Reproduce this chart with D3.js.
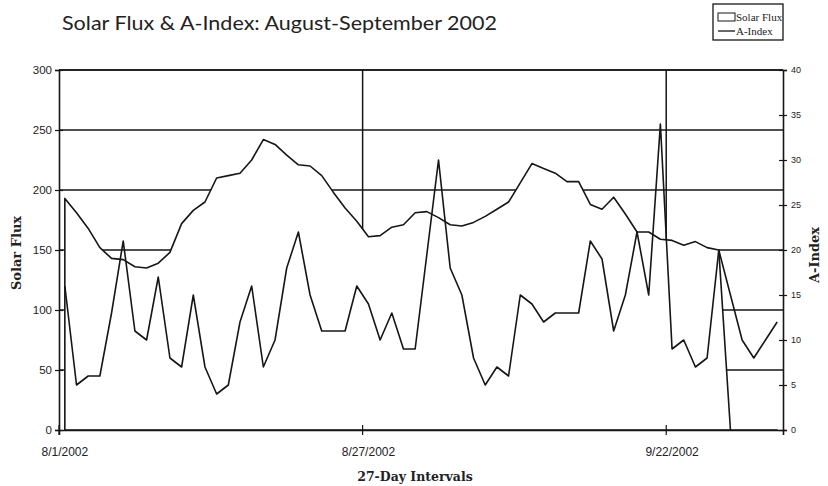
<!DOCTYPE html>
<html>
<head>
<meta charset="utf-8">
<script src="https://cdn.jsdelivr.net/npm/d3@7"></script>
<style>
  body { margin: 0; background: #fff; }
  svg { display: block; }
</style>
</head>
<body>
<div id="chart"></div>
<script>
// daily values, 8/1/2002 .. 10/1/2002
var solarFlux = [193, 181, 168, 152, 143, 142, 136, 135, 139, 148,
                 172, 183, 190, 210, 212, 214, 225, 242, 238, 229,
                 221, 220, 212, 198, 185, 174, 161, 162, 169, 171,
                 181, 182, 177, 171, 170, 173, 178, 184, 190, 206,
                 222, 218, 214, 207, 207, 188, 184, 194, 180, 165,
                 165, 159, 158, 154, 157, 152, 150, 0, 0, 0,
                 0, 0];
var aIndex = [16, 5, 6, 6, 13, 21, 11, 10, 17, 8,
              7, 15, 7, 4, 5, 12, 16, 7, 10, 18,
              22, 15, 11, 11, 11, 16, 14, 10, 13, 9,
              9, 19.5, 30, 18, 15, 8, 5, 7, 6, 15,
              14, 12, 13, 13, 13, 21, 19, 11, 15, 22,
              15, 34, 9, 10, 7, 8, 20, 15, 10, 8,
              10, 12];
var tickDays = [0, 26, 52];
var tickLabels = ["8/1/2002", "8/27/2002", "9/22/2002"];
var fluxTicks = [0, 50, 100, 150, 200, 250, 300];
var aTicks = [0, 5, 10, 15, 20, 25, 30, 35, 40];

var width = 828, height = 486;
var plotL = 59, plotR = 783, plotT = 70, plotB = 430;
var ink = "#161616";

var svg = d3.select("#chart").append("svg")
    .attr("width", width).attr("height", height);

var x = d3.scaleBand().domain(d3.range(solarFlux.length)).range([plotL, plotR]).padding(0);
var bw = x.bandwidth();
var cx = function(i){ return x(i) + bw / 2; };
var yL = d3.scaleLinear().domain([0, 300]).range([plotB, plotT]);
var yR = d3.scaleLinear().domain([0, 40]).range([plotB, plotT]);

// gridlines (hidden under the white flux area)
svg.append("g").selectAll("line").data(fluxTicks.slice(1)).enter().append("line")
    .attr("x1", plotL).attr("x2", plotR)
    .attr("y1", function(d){ return yL(d); }).attr("y2", function(d){ return yL(d); })
    .attr("stroke", ink).attr("stroke-width", 1.5);
svg.append("g").selectAll("line").data(tickDays.slice(1)).enter().append("line")
    .attr("x1", function(d){ return x(d); }).attr("x2", function(d){ return x(d); })
    .attr("y1", plotT).attr("y2", plotB)
    .attr("stroke", ink).attr("stroke-width", 1.5);

// solar flux area
var area = d3.area()
    .x(function(d, i){ return cx(i); })
    .y0(yL(0))
    .y1(function(d){ return yL(d); });
svg.append("path").datum(solarFlux)
    .attr("d", area)
    .attr("fill", "#fff").attr("stroke", ink).attr("stroke-width", 1.6)
    .attr("stroke-linejoin", "round");

// A-index line
var line = d3.line()
    .x(function(d, i){ return cx(i); })
    .y(function(d){ return yR(d); });
svg.append("path").datum(aIndex)
    .attr("d", line)
    .attr("fill", "none").attr("stroke", ink).attr("stroke-width", 1.6)
    .attr("stroke-linejoin", "round");

// axes
var narrow = "'Liberation Sans Narrow', 'Liberation Sans', Arial, sans-serif";
var axL = svg.append("g").attr("transform", "translate(" + plotL + ",0)")
    .call(d3.axisLeft(yL).tickValues(fluxTicks).tickSize(4).tickPadding(4));
axL.selectAll(".tick line").attr("x1", -4).attr("x2", 4);
axL.selectAll("text").style("font-family", narrow)
    .style("font-size", "11.5px").attr("fill", "#222").attr("x", -7);

var axR = svg.append("g").attr("transform", "translate(" + plotR + ",0)")
    .call(d3.axisRight(yR).tickValues(aTicks).tickSize(4).tickPadding(4));
axR.selectAll(".tick line").attr("x1", -4).attr("x2", 4);
axR.selectAll("text").style("font-family", narrow)
    .style("font-size", "9px").attr("fill", "#222").attr("x", 8);

var axB = svg.append("g").attr("transform", "translate(0," + plotB + ")")
    .call(d3.axisBottom(x).tickValues(tickDays)
        .tickFormat(function(d){ return tickLabels[tickDays.indexOf(d)]; })
        .tickSize(5).tickPadding(12));
axB.selectAll(".tick line").attr("x1", -bw / 2).attr("x2", -bw / 2).attr("y1", -5).attr("y2", 5);
axB.selectAll("text").style("font-family", narrow)
    .style("font-size", "12px").attr("fill", "#222");

svg.selectAll(".domain").attr("stroke", ink).attr("stroke-width", 1.6);
svg.selectAll(".tick line").attr("stroke", ink).attr("stroke-width", 1.2);

// top border
svg.append("line").attr("x1", plotL).attr("x2", plotR).attr("y1", plotT).attr("y2", plotT)
    .attr("stroke", ink).attr("stroke-width", 1.6);

// titles
svg.append("text").attr("x", 62).attr("y", 30)
    .attr("textLength", 435).attr("lengthAdjust", "spacingAndGlyphs")
    .style("font-family", "Lato, 'Open Sans', sans-serif").style("font-size", "20px")
    .attr("fill", "#222")
    .text("Solar Flux & A-Index: August-September 2002");

var serif = "'DejaVu Serif', 'Liberation Serif', serif";
svg.append("text").attr("x", 415).attr("y", 481).attr("text-anchor", "middle")
    .style("font-family", serif).style("font-size", "12.5px").style("font-weight", "bold")
    .attr("fill", "#222").text("27-Day Intervals");
svg.append("text").attr("transform", "translate(21,253) rotate(-90)").attr("text-anchor", "middle")
    .style("font-family", serif).style("font-size", "13px").style("font-weight", "bold")
    .attr("fill", "#222").text("Solar Flux");
svg.append("text").attr("transform", "translate(819,255) rotate(-90)").attr("text-anchor", "middle")
    .style("font-family", serif).style("font-size", "13px").style("font-weight", "bold")
    .attr("fill", "#222").text("A-Index");

// legend
var lg = svg.append("g");
lg.append("rect").attr("x", 713).attr("y", 4).attr("width", 70).attr("height", 36)
    .attr("fill", "#fff").attr("stroke", ink).attr("stroke-width", 1.3);
lg.append("rect").attr("x", 718).attr("y", 13).attr("width", 17).attr("height", 8)
    .attr("fill", "#fff").attr("stroke", ink).attr("stroke-width", 1);
lg.append("line").attr("x1", 718).attr("x2", 735).attr("y1", 31).attr("y2", 31)
    .attr("stroke", ink).attr("stroke-width", 1.3);
lg.append("text").attr("x", 736).attr("y", 21)
    .style("font-family", "'Liberation Serif', serif").style("font-size", "11px")
    .attr("fill", "#222").text("Solar Flux");
lg.append("text").attr("x", 736).attr("y", 35)
    .style("font-family", "'Liberation Serif', serif").style("font-size", "11px")
    .attr("fill", "#222").text("A-Index");
</script>
</body>
</html>
